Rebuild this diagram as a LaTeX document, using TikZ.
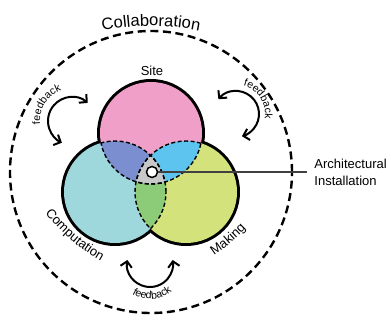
\documentclass[tikz,border=0pt]{standalone}
\usepackage{fontspec}
\setmainfont{Liberation Sans}
\usetikzlibrary{positioning, arrows.meta, decorations.text}

\newcommand\lblfont{\fontsize{13pt}{17pt}\selectfont}
\newcommand\bigfont{\fontsize{16.5pt}{20pt}\selectfont}
\newcommand\fbfont{\fontsize{10.5pt}{12pt}\selectfont}

\definecolor{sitepink}{HTML}{F0A0C8}
\definecolor{compcyan}{HTML}{9ED8DC}
\definecolor{makegreen}{HTML}{D4E27C}
\definecolor{sitecomp}{HTML}{7A8ED0}
\definecolor{sitemake}{HTML}{5CC4EE}
\definecolor{compmake}{HTML}{8CCB78}
\definecolor{allthree}{HTML}{C8C8C8}
\definecolor{leader}{HTML}{404040}

\tikzset{
  ring/.style={line width=6pt},
  seam/.style={line width=1.4pt, dash pattern=on 4pt off 2.5pt},
  fbarrow/.style={line width=2pt,
    {Straight Barb[length=5.5pt,width=11.5pt]}-{Straight Barb[length=5.5pt,width=11.5pt]}},
  curved text/.style={decorate,
    decoration={text along path, text align=center, text={#1}}}
}

\begin{document}
\begin{tikzpicture}[x=1pt, y=1pt]
\useasboundingbox (0,0) rectangle (387,-320);

\coordinate (mid) at (151,-172);
\coordinate (site) at (151,-133);
\coordinate (comp) at (115,-192);
\coordinate (make) at (186,-192);

% thick outline first, the fills cover its inner half
\foreach \c in {site, comp, make}
  \draw[ring] (\c) circle (51);
\fill[sitepink] (site) circle (51);
\fill[compcyan] (comp) circle (51);
\fill[makegreen] (make) circle (51);

% overlaps
\begin{scope}
  \clip (comp) circle (51);
  \fill[compmake] (make) circle (51);
\end{scope}
\begin{scope}
  \clip (site) circle (51);
  \fill[sitecomp] (comp) circle (51);
  \fill[sitemake] (make) circle (51);
  \clip (comp) circle (51);
  \fill[allthree] (make) circle (51);
\end{scope}

% dashed seams inside the other circles
\foreach \a/\b/\c in {site/comp/make, comp/make/site, make/site/comp} {
  \begin{scope}
    \clip (\b) circle (51);
    \draw[seam] (\a) circle (51);
  \end{scope}
  \begin{scope}
    \clip (\c) circle (51);
    \draw[seam] (\a) circle (51);
  \end{scope}
}

% collaboration boundary
\draw[line width=2.4pt, dash pattern=on 8pt off 4.6pt] (mid) circle (141);
\path[curved text=|\bigfont|Collaboration] (151,-266) ++(106:240) arc (106:74:240);

% circle labels
\node (sitelbl) [font=\lblfont] at (152,-71) {Site};
\path[curved text=|\lblfont|Computation] (197.5,-91.5) ++(214:195) arc (214:245:195);
\path[curved text=|\lblfont|Making] (105.4,-93.6) ++(295:195) arc (295:325:195);

% feedback loops
\coordinate (fbleft) at (72,-121);
\coordinate (fbright) at (236,-114);
\coordinate (fbdown) at (150,-264);
\draw[fbarrow] (fbleft) ++(49:24) arc (49:245:24);
\path[curved text=|\fbfont|feedback] (fbleft) ++(195:32) arc (195:100:32);
\draw[fbarrow] (fbright) ++(140:23) arc (140:-75:23);
\path[curved text=|\fbfont|feedback] (fbright) ++(80:29) arc (80:-14:29);
\draw[fbarrow] (fbdown) ++(170:23) arc (170:370:23);
\path[curved text=|\fbfont|feedback] (fbdown) ++(229:35) arc (229:319:35);

% installation marker
\node (hub) [circle, draw, fill=white, line width=1.5pt, minimum size=11pt, inner sep=0pt] at (152,-172) {};
\node (tag) [right=156pt of hub, align=left, font=\lblfont, inner sep=0pt] {Architectural\\Installation};
\draw[leader, line width=1.8pt] (hub) -- ([xshift=-7pt]tag.west);
\end{tikzpicture}
\end{document}
